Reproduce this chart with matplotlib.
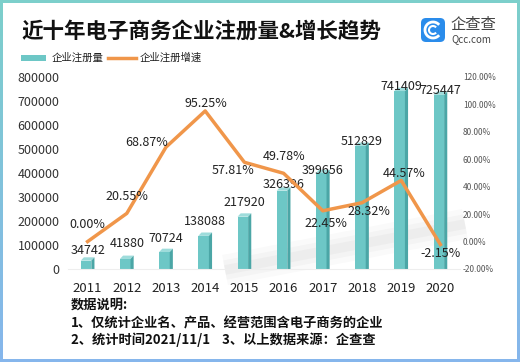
import numpy as np
import matplotlib
matplotlib.use('Agg')
from matplotlib import pyplot as plt
from matplotlib.patches import FancyBboxPatch, Rectangle, Polygon, Arc

plt.rcParams['font.family'] = ['Noto Sans CJK SC', 'DejaVu Sans']

# 数据
years = ['2011', '2012', '2013', '2014', '2015', '2016', '2017', '2018', '2019', '2020']
counts = [34742, 41880, 70724, 138088, 217920, 326396, 399656, 512829, 741409, 725447]
growth = [0.00, 20.55, 68.87, 95.25, 57.81, 49.78, 22.45, 28.32, 44.57, -2.15]

title = '近十年电子商务企业注册量&增长趋势'
legend_names = ['企业注册量', '企业注册增速']
notes = ['数据说明:', '1、仅统计企业名、产品、经营范围含电子商务的企业',
         '2、统计时间2021/11/1    3、以上数据来源：企查查']

# 标签偏移(点)
pct_offsets = [(0, 12.5), (0, 12), (-14, 3.6), (0.7, 5), (-8, -6.2),
               (0, 11.8), (2, -8.8), (5, -6.6), (2, 4.7), (0, -6.8)]
cnt_offsets = [7, 11, 10, 10, 10, 4.3, 2, 3.2, 3, 3.3]

face = '#6DC7C6'
side = '#4BA6A6'
top = '#9EDCDB'
orange = '#F0964A'

fig = plt.figure(figsize=(5.2, 3.62), dpi=100)

# 边框 (渐变)
bg = fig.add_axes([0, 0, 1, 1], zorder=-10)
grad = np.linspace(0, 1, 100).reshape(-1, 1)
c1 = np.array([0x7c, 0xcf, 0xcb]) / 255
c2 = np.array([0x86, 0xb6, 0xec]) / 255
img = c1[None, None, :] * (1 - grad[:, :, None]) + c2[None, None, :] * grad[:, :, None]
bg.imshow(img, aspect='auto', extent=(0, 520, 362, 0))
bg.add_patch(Rectangle((3, 3), 514, 356, facecolor='white', edgecolor='none'))
# 装饰阴影 (淡)
for lw, a in [(22, 0.04), (14, 0.05), (7, 0.06)]:
    bg.plot([225, 465], [270, 224], color='#888888', linewidth=lw, alpha=a,
            solid_capstyle='butt')
bg.set_xlim(0, 520)
bg.set_ylim(362, 0)
bg.axis('off')

# 主图
ax = fig.add_axes([68 / 520, 1 - 269 / 362, 392 / 520, 192 / 362])
ax.patch.set_alpha(0)
x = np.arange(len(years))
w = 0.27
d = 0.08
dy = 14000
ax.bar(x - d / 2, counts, width=w, color=face, zorder=2)
for xi, v in zip(x, counts):
    x0 = xi - d / 2 - w / 2
    ax.add_patch(Polygon([(x0, v), (x0 + w, v), (x0 + w + d, v + dy), (x0 + d, v + dy)],
                         closed=True, facecolor=top, edgecolor='none', zorder=2))
    ax.add_patch(Polygon([(x0 + w, v), (x0 + w + d, v + dy), (x0 + w + d, 0), (x0 + w, 0)],
                         closed=True, facecolor=side, edgecolor='none', zorder=2))
for xi, v, off in zip(x, counts, cnt_offsets):
    ax.annotate(str(v), (xi, v), xytext=(0, off), textcoords='offset points',
                ha='center', va='center', fontsize=9, color='#222222', zorder=5)

ax.set_xlim(-0.5, len(years) - 0.5)
ax.set_ylim(0, 800000)
ax.set_yticks(range(0, 800001, 100000))
ax.set_yticklabels([str(v) for v in range(0, 800001, 100000)], fontsize=9, color='#333333')
ax.set_xticks(x)
ax.set_xticklabels(years, fontsize=9.5, color='#222222')
ax.tick_params(length=0, pad=6)
ax.tick_params(axis='x', pad=9)
for s in ax.spines.values():
    s.set_visible(False)
ax.spines['bottom'].set_visible(True)
ax.spines['bottom'].set_color('#eeeeee')

ax2 = ax.twinx()
ax2.plot(x, growth, color=orange, linewidth=2.5, zorder=3)
ax2.set_ylim(-20, 120)
ax2.set_yticks(range(-20, 121, 20))
ax2.set_yticklabels(['%.2f%%' % v for v in range(-20, 121, 20)], fontsize=6, color='#555555')
ax2.tick_params(length=0, pad=2)
for s in ax2.spines.values():
    s.set_visible(False)
for xi, v, off in zip(x, growth, pct_offsets):
    ax2.annotate('%.2f%%' % v, (xi, v), xytext=off, textcoords='offset points',
                 ha='center', va='center', fontsize=9, color='#222222', zorder=6)

# 顶部与底部文字
ov = fig.add_axes([0, 0, 1, 1], zorder=10)
ov.set_xlim(0, 520)
ov.set_ylim(362, 0)
ov.axis('off')
ov.patch.set_alpha(0)
ov.text(21, 31, title, fontsize=15.5, fontweight='bold', va='center', ha='left', color='#111111')
ov.add_patch(Rectangle((21, 55), 25, 6, facecolor=face, edgecolor='none'))
ov.text(52, 58, legend_names[0], fontsize=7.5, va='center', ha='left', color='#222222')
ov.plot([108, 136], [58, 58], color=orange, linewidth=2.5)
ov.text(140, 58, legend_names[1], fontsize=7.5, va='center', ha='left', color='#222222')

# 企查查 标志
ov.add_patch(FancyBboxPatch((421, 18), 24, 24, boxstyle='round,pad=0,rounding_size=5',
                            facecolor='#2A8CEB', edgecolor='none'))
ov.add_patch(Arc((433, 30), 16, 16, theta1=40, theta2=320, color='white', linewidth=2))
ov.add_patch(Arc((433, 30), 8, 8, theta1=40, theta2=320, color='white', linewidth=1.5))
ov.text(450, 25, '企查查', fontsize=11, va='center', ha='left', color='#444444')
ov.text(451, 39, 'Qcc.com', fontsize=7, va='center', ha='left', color='#444444')

for i, line in enumerate(notes):
    ov.text(71, [305, 323, 340][i], line, fontsize=9.5, fontweight='bold',
            va='center', ha='left', color='#111111')

fig.savefig('out.png', dpi=100)
